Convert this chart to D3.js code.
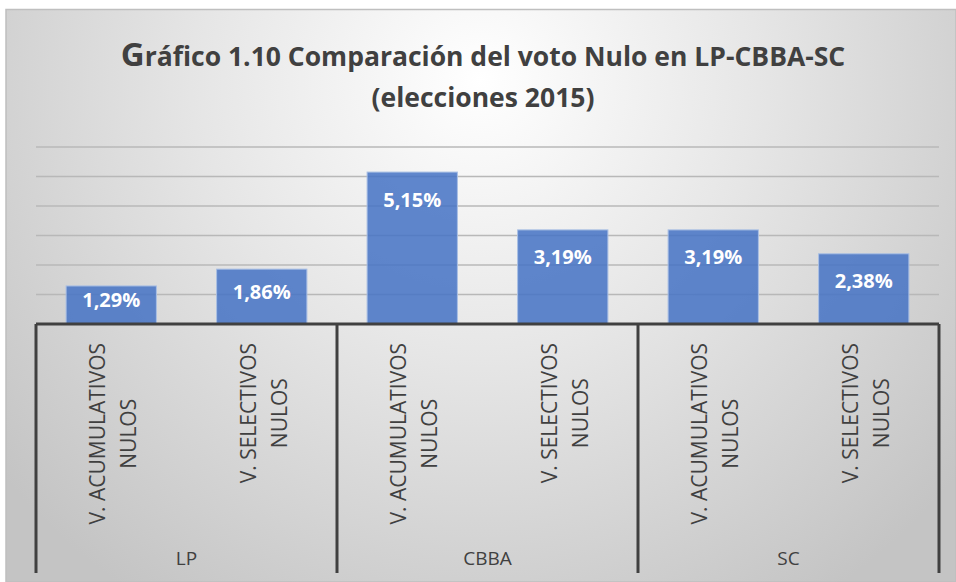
<!DOCTYPE html>
<html>
<head>
<meta charset="utf-8">
<script src="https://cdn.jsdelivr.net/npm/d3@7"></script>
<style>
	body {
		padding: 0;
		margin: 0;
		background: #FFF;
	}
	text {
		font-family: "Open Sans", sans-serif;
		fill: #404040;
	}
	.grid line {
		stroke: #B8B8B8;
		stroke-width: 1.5;
	}
	.bar {
		fill: #4472C4;
		fill-opacity: 0.85;
		stroke: #A9BFE4;
		stroke-width: 1;
	}
	.val {
		fill: #FFF;
		font-weight: bold;
		font-size: 20px;
	}
	.sep {
		stroke: #404040;
		stroke-width: 3;
	}
</style>
</head>
<body>
<div id="content"></div>
<script>
// Data
var groups = ['LP', 'CBBA', 'SC'];
var subs = ['acum', 'sel'];
var subLabels = [['V. ACUMULATIVOS', 'NULOS'], ['V. SELECTIVOS', 'NULOS']];
var values = [
	[1.29, 1.86],
	[5.15, 3.19],
	[3.19, 2.38]
];
var yTicks = [1, 2, 3, 4, 5, 6];
var titleLines = ['Gráfico 1.10 Comparación del voto Nulo en LP-CBBA-SC', '(elecciones 2015)'];

var w = 956, h = 582;
var left = 36, right = 939, base = 324, top6 = 147;

var es = d3.formatLocale({decimal: ',', thousands: '.', grouping: [3], currency: ['', '']});
var fmt = es.format('.2f');

var svg = d3.select('#content')
	.append('svg')
	.attr('width', w)
	.attr('height', h);

// Background gradient
var defs = svg.append('defs');
var grad = defs.append('radialGradient')
	.attr('id', 'bg')
	.attr('gradientUnits', 'userSpaceOnUse')
	.attr('cx', 480).attr('cy', 80).attr('r', 620);
grad.append('stop').attr('offset', '0%').attr('stop-color', '#FFFFFF');
grad.append('stop').attr('offset', '45%').attr('stop-color', '#E6E6E6');
grad.append('stop').attr('offset', '100%').attr('stop-color', '#C4C4C4');

svg.append('rect')
	.attr('x', 6).attr('y', 9.5)
	.attr('width', w - 6).attr('height', h - 9.5)
	.attr('fill', 'url(#bg)')
	.attr('stroke', '#BFBFBF')
	.attr('stroke-width', 1.5);

// Scales
var x0 = d3.scaleBand().domain(groups).range([left, right]);
var x1 = d3.scaleBand().domain(subs).range([0, x0.bandwidth()])
	.paddingInner(0.4).paddingOuter(0.2);
var y = d3.scaleLinear().domain([0, 6]).range([base, top6]);

// Gridlines
svg.append('g')
	.attr('class', 'grid')
	.selectAll('line')
	.data(yTicks)
	.join('line')
	.attr('x1', left).attr('x2', right)
	.attr('y1', d => y(d)).attr('y2', d => y(d));

// Bars
var g = svg.selectAll('.grp')
	.data(groups)
	.join('g')
	.attr('class', 'grp')
	.attr('transform', d => 'translate(' + x0(d) + ',0)');

g.selectAll('rect')
	.data((d, i) => values[i].map((v, j) => ({sub: subs[j], v: v})))
	.join('rect')
	.attr('class', 'bar')
	.attr('x', d => x1(d.sub))
	.attr('width', x1.bandwidth())
	.attr('y', d => y(d.v))
	.attr('height', d => y(0) - y(d.v));

g.selectAll('.val')
	.data((d, i) => values[i].map((v, j) => ({sub: subs[j], v: v})))
	.join('text')
	.attr('class', 'val')
	.attr('text-anchor', 'middle')
	.attr('dominant-baseline', 'central')
	.attr('x', d => x1(d.sub) + x1.bandwidth() / 2)
	.attr('y', d => Math.min(y(d.v) + 27, y(d.v) + (y(0) - y(d.v)) / 2 - 5))
	.text(d => fmt(d.v) + '%');

// Axis line and separators
svg.append('line')
	.attr('class', 'sep')
	.attr('x1', left).attr('x2', right)
	.attr('y1', base).attr('y2', base);

svg.selectAll('.vsep')
	.data(groups.concat(['end']))
	.join('line')
	.attr('class', 'sep')
	.attr('x1', (d, i) => i < groups.length ? x0(d) : right)
	.attr('x2', (d, i) => i < groups.length ? x0(d) : right)
	.attr('y1', base).attr('y2', 573);

// Sub-category labels (rotated, two lines each)
g.each(function(gd) {
	var grp = d3.select(this);
	subs.forEach(function(s, j) {
		var cx = x1(s) + x1.bandwidth() / 2;
		var lines = subLabels[j];
		var texts = lines.map(function(l) {
			return grp.append('text')
				.attr('font-size', '21px')
				.attr('text-anchor', 'middle')
				.attr('dominant-baseline', 'central')
				.text(l);
		});
		// widest line sits at the top of the label area
		var wmax = d3.max(texts, t => t.node().getComputedTextLength());
		var cy = 343 + wmax / 2;
		texts.forEach(function(t, k) {
			var lx = cx - 14 + k * 31;
			t.attr('transform', 'translate(' + lx + ',' + cy + ') rotate(-90)');
		});
	});
});

// Group labels
svg.selectAll('.glab')
	.data(groups)
	.join('text')
	.attr('class', 'glab')
	.attr('font-size', '19px')
	.attr('text-anchor', 'middle')
	.attr('dominant-baseline', 'central')
	.attr('x', d => x0(d) + x0.bandwidth() / 2)
	.attr('y', 558)
	.text(d => d);

// Title
var title = svg.append('text')
	.attr('text-anchor', 'middle')
	.attr('font-weight', 'bold')
	.attr('font-size', '26.5px');
title.append('tspan')
	.attr('x', 483).attr('y', 66)
	.attr('font-size', '33px')
	.text(titleLines[0].charAt(0));
title.append('tspan')
	.text(titleLines[0].slice(1));
title.append('tspan')
	.attr('x', 483).attr('y', 107)
	.text(titleLines[1]);
</script>
</body>
</html>
